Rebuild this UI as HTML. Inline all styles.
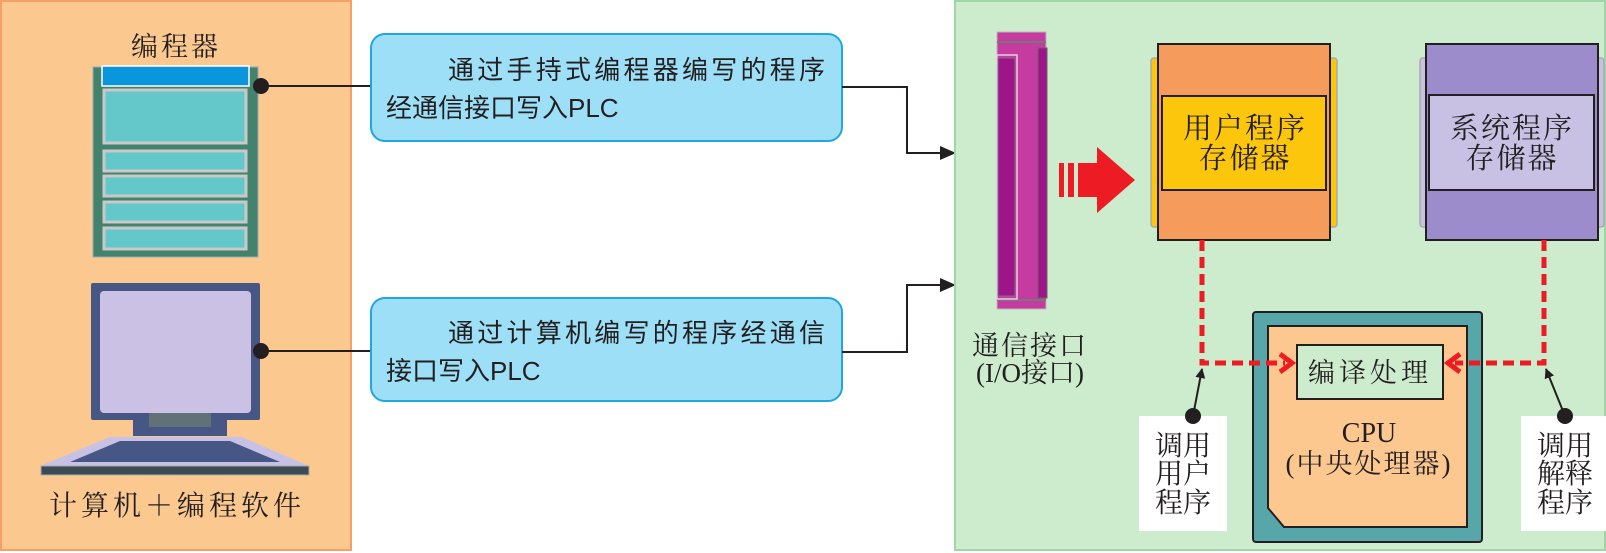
<!DOCTYPE html>
<html><head><meta charset="utf-8"><style>
html,body{margin:0;padding:0;background:#fff;}
svg{display:block;}
.s{font-family:"Liberation Serif","Noto Serif CJK SC",serif;fill:#231f20;}
.h{font-family:"Liberation Sans","Noto Sans CJK SC",sans-serif;fill:#231f20;}
</style></head><body>
<svg width="1606" height="553" viewBox="0 0 1606 553" xmlns="http://www.w3.org/2000/svg">
<defs>
<marker id="ah" markerWidth="10" markerHeight="10" refX="9" refY="5" orient="auto" markerUnits="userSpaceOnUse"><path d="M0,0 L10,5 L0,10 z" fill="#231f20"/></marker>
<marker id="ah2" markerWidth="16" markerHeight="14" refX="15" refY="7" orient="auto" markerUnits="userSpaceOnUse"><path d="M0,0 L16,7 L0,14 z" fill="#231f20"/></marker>
</defs>
<!-- left panel -->
<rect x="1" y="1" width="350" height="549" fill="#fbc98f" stroke="#f5a06a" stroke-width="2"/>
<text class="s" x="176" y="56" font-size="27" text-anchor="middle" letter-spacing="3">编程器</text>
<!-- programmer -->
<rect x="93" y="67" width="165" height="190" fill="#43826c" stroke="#9ab" stroke-width="1"/>
<rect x="102" y="66" width="147" height="20" fill="#0b95dc" stroke="#fff" stroke-width="1.5"/>
<rect x="104" y="90" width="142" height="53" fill="#64c8cb" stroke="#c9c9c9" stroke-width="3"/>
<rect x="104" y="151" width="142" height="20" fill="#64c8cb" stroke="#c9c9c9" stroke-width="3"/>
<rect x="104" y="176" width="142" height="20" fill="#64c8cb" stroke="#c9c9c9" stroke-width="3"/>
<rect x="104" y="202" width="142" height="20" fill="#64c8cb" stroke="#c9c9c9" stroke-width="3"/>
<rect x="104" y="228" width="142" height="21" fill="#64c8cb" stroke="#c9c9c9" stroke-width="3"/>
<!-- computer -->
<rect x="91" y="283" width="169" height="137" fill="#465685" rx="2"/>
<rect x="100" y="291" width="151" height="122" fill="#cac1e4" rx="4"/>
<rect x="133" y="413" width="94" height="23" fill="#465685"/>
<rect x="149" y="413" width="62" height="14" fill="#627077"/>
<polygon points="110,437 242,437 309,466 40,466" fill="#c8c1e6"/>
<polygon points="120,441 230,441 280,462 70,462" fill="#465685"/>
<rect x="41" y="466" width="268" height="9" fill="#3c4a55" stroke="#aaa" stroke-width="1"/>
<text class="s" x="177" y="515" font-size="28" text-anchor="middle" letter-spacing="4">计算机＋编程软件</text>
<!-- connectors left -->
<circle cx="261" cy="86" r="8" fill="#231f20"/>
<line x1="261" y1="86" x2="371" y2="86" stroke="#231f20" stroke-width="2"/>
<circle cx="261" cy="351" r="8" fill="#231f20"/>
<line x1="261" y1="351" x2="371" y2="351" stroke="#231f20" stroke-width="2"/>
<!-- callouts -->
<rect x="371" y="34" width="471" height="107" rx="14" fill="#9ddff7" stroke="#1ea7e1" stroke-width="2"/>
<text class="h" x="448" y="79" font-size="26" textLength="377" lengthAdjust="spacing">通过手持式编程器编写的程序</text>
<text class="h" x="386" y="117" font-size="26">经通信接口写入PLC</text>
<rect x="371" y="298" width="471" height="103" rx="14" fill="#9ddff7" stroke="#1ea7e1" stroke-width="2"/>
<text class="h" x="448" y="342" font-size="26" textLength="377" lengthAdjust="spacing">通过计算机编写的程序经通信</text>
<text class="h" x="386" y="380" font-size="26">接口写入PLC</text>
<polyline points="842,87 907,87 907,153 955,153" fill="none" stroke="#231f20" stroke-width="2" marker-end="url(#ah2)"/>
<polyline points="842,352 907,352 907,285 955,285" fill="none" stroke="#231f20" stroke-width="2" marker-end="url(#ah2)"/>
<!-- right panel -->
<rect x="955" y="1" width="650" height="549" fill="#cdebcd" stroke="#9fd6a6" stroke-width="2"/>
<!-- IO port -->
<rect x="997" y="32" width="49" height="277" fill="#c63ba0" stroke="#bbb" stroke-width="1"/>
<line x1="997" y1="42" x2="1046" y2="42" stroke="#777" stroke-width="2"/>
<line x1="997" y1="300" x2="1046" y2="300" stroke="#777" stroke-width="2"/>
<rect x="997" y="55" width="20" height="244" fill="none" stroke="#e8c8e8" stroke-width="1.5"/>
<rect x="998" y="58" width="17" height="238" fill="#9e1489" stroke="#777" stroke-width="1"/>
<rect x="1038" y="48" width="9" height="250" fill="#9e1489" stroke="#666" stroke-width="1"/>
<text class="s" x="1030" y="355" font-size="27" text-anchor="middle" letter-spacing="2">通信接口</text>
<text class="s" x="1030" y="382" font-size="27" text-anchor="middle">(I/O接口)</text>
<!-- red arrow -->
<rect x="1059" y="163" width="5" height="34" fill="#ed1c24"/>
<rect x="1068" y="163" width="6" height="34" fill="#ed1c24"/>
<polygon points="1078,163 1097,163 1097,147 1135,180 1097,213 1097,197 1078,197" fill="#ed1c24"/>
<!-- user memory -->
<rect x="1151" y="58" width="186" height="169" rx="3" fill="#fcc60d" stroke="#aaa" stroke-width="1.5"/>
<rect x="1158" y="44" width="172" height="196" fill="#f59c5d" stroke="#231f20" stroke-width="2"/>
<rect x="1162" y="96" width="164" height="94" fill="#fcc60d" stroke="#231f20" stroke-width="2"/>
<text class="s" x="1245" y="138" font-size="29" text-anchor="middle" letter-spacing="2">用户程序</text>
<text class="s" x="1245" y="168" font-size="29" text-anchor="middle" letter-spacing="2">存储器</text>
<!-- system memory -->
<rect x="1420" y="58" width="184" height="169" rx="3" fill="#c9c1e3" stroke="#aaa" stroke-width="1.5"/>
<rect x="1426" y="44" width="172" height="196" fill="#9c8ccb" stroke="#231f20" stroke-width="2"/>
<rect x="1429" y="95" width="165" height="95" fill="#c9c1e3" stroke="#231f20" stroke-width="2"/>
<text class="s" x="1512" y="138" font-size="29" text-anchor="middle" letter-spacing="2">系统程序</text>
<text class="s" x="1512" y="168" font-size="29" text-anchor="middle" letter-spacing="2">存储器</text>
<!-- CPU -->
<rect x="1253" y="312" width="229" height="230" rx="3" fill="#56a6aa" stroke="#231f20" stroke-width="2"/>
<polygon points="1268,326 1467,326 1467,527 1284,527 1268,508" fill="#fcc88f" stroke="#231f20" stroke-width="2"/>
<rect x="1297" y="345" width="146" height="54" fill="#cdebcd" stroke="#231f20" stroke-width="2"/>
<text class="s" x="1370" y="382" font-size="27" text-anchor="middle" letter-spacing="4">编译处理</text>
<text class="s" x="1369" y="442" font-size="28" text-anchor="middle">CPU</text>
<text class="s" x="1369" y="473" font-size="27" text-anchor="middle" letter-spacing="2">(中央处理器)</text>
<!-- dashed lines -->
<polyline points="1202,240 1202,363 1285,363" fill="none" stroke="#ed1c24" stroke-width="5" stroke-dasharray="11,6"/>
<polyline points="1280,354 1292,363 1280,372" fill="none" stroke="#ed1c24" stroke-width="5"/>
<polyline points="1544,240 1544,363 1455,363" fill="none" stroke="#ed1c24" stroke-width="5" stroke-dasharray="11,6"/>
<polyline points="1460,354 1448,363 1460,372" fill="none" stroke="#ed1c24" stroke-width="5"/>
<!-- labels -->
<rect x="1139" y="416" width="88" height="115" fill="#fff"/>
<text class="s" x="1183" y="455" font-size="28" text-anchor="middle">调用</text>
<text class="s" x="1183" y="483" font-size="28" text-anchor="middle">用户</text>
<text class="s" x="1183" y="512" font-size="28" text-anchor="middle">程序</text>
<line x1="1193" y1="416" x2="1202" y2="369" stroke="#231f20" stroke-width="2" marker-end="url(#ah)"/>
<circle cx="1193" cy="416" r="8" fill="#231f20"/>
<rect x="1521" y="416" width="85" height="115" fill="#fff"/>
<text class="s" x="1565" y="455" font-size="28" text-anchor="middle">调用</text>
<text class="s" x="1565" y="483" font-size="28" text-anchor="middle">解释</text>
<text class="s" x="1565" y="512" font-size="28" text-anchor="middle">程序</text>
<line x1="1565" y1="416" x2="1546" y2="369" stroke="#231f20" stroke-width="2" marker-end="url(#ah)"/>
<circle cx="1565" cy="416" r="8" fill="#231f20"/>
</svg>
</body></html>
